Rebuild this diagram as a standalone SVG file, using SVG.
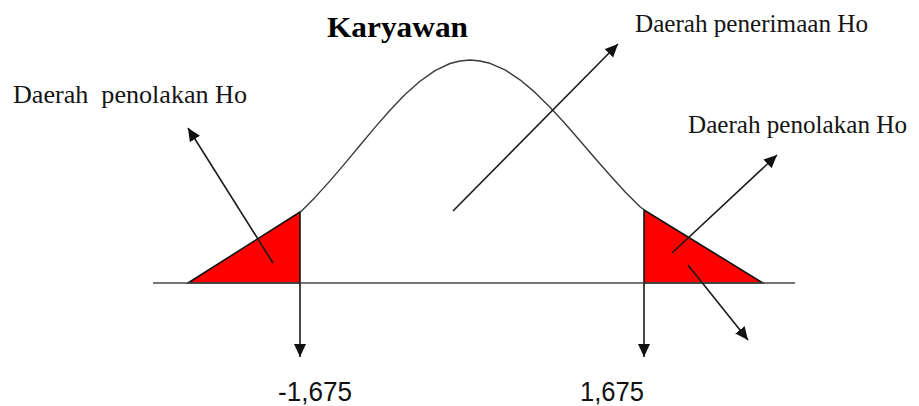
<svg xmlns="http://www.w3.org/2000/svg" width="919" height="406" viewBox="0 0 919 406">
<defs>
<style>
.lbl{font-family:"Liberation Serif","Times New Roman",serif;font-size:26px;fill:#141414}
.num{font-family:"Liberation Sans",Arial,sans-serif;font-size:27px;fill:#111}
.title{font-family:"Liberation Serif","Times New Roman",serif;font-size:30px;font-weight:bold;fill:#000}
.arrow{stroke:#1a1a1a;stroke-width:1.6;fill:none;marker-end:url(#ah)}
.tri{fill:#ff0000;stroke:#111;stroke-width:1.6;stroke-linejoin:miter}
</style>
<marker id="ah" markerUnits="userSpaceOnUse" markerWidth="14" markerHeight="13" refX="13" refY="6" orient="auto">
<path d="M0,0 L13,6 L0,12 z" fill="#111"/>
</marker>
</defs>
<rect width="919" height="406" fill="#fff"/>
<g id="title"><text class="title" x="327" y="37" textLength="141" lengthAdjust="spacingAndGlyphs">Karyawan</text></g>
<g id="left-region">
<polygon class="tri" points="188,283 300,212 300,283"/>
</g>
<g id="right-region">
<polygon class="tri" points="644,210 644,283 763,283"/>
</g>
<g id="axis">
<line x1="153" y1="283" x2="795" y2="283" stroke="#4a4a4a" stroke-width="1.6"/>
</g>
<g id="curve">
<polyline fill="none" stroke="#3a3a3a" stroke-width="1.4" stroke-linejoin="round" points="300,212.5 315,197.4 330,180.9 345,163.4 360,145.3 375,127.4 390,110.2 405,94.6 420,81.2 435,70.6 450,63.5 460,61 470,60 480,61 490,63.3 505,69.9 520,79.8 535,92.4 550,107.2 565,123.5 580,140.7 595,158.2 610,175.3 625,191.7 640,206.8 645,210.5"/>
</g>
<g id="label-left"><text class="lbl" x="13" y="103" textLength="234" lengthAdjust="spacingAndGlyphs" xml:space="preserve">Daerah  penolakan Ho</text></g>
<g id="label-accept"><text class="lbl" x="635" y="32" textLength="233" lengthAdjust="spacingAndGlyphs">Daerah penerimaan Ho</text></g>
<g id="label-right"><text class="lbl" x="688" y="133" textLength="219" lengthAdjust="spacingAndGlyphs">Daerah penolakan Ho</text></g>
<g id="val-left"><text class="num" x="278" y="401" textLength="74" lengthAdjust="spacingAndGlyphs">-1,675</text></g>
<g id="val-right"><text class="num" x="580" y="401" textLength="64" lengthAdjust="spacingAndGlyphs">1,675</text></g>
<g id="connectors">
<line class="arrow" x1="273" y1="263" x2="188" y2="128"/>
<line class="arrow" x1="453" y1="211" x2="618" y2="44"/>
<line class="arrow" x1="672" y1="253" x2="777" y2="155"/>
<line class="arrow" x1="688" y1="265" x2="748" y2="340"/>
<line class="arrow" x1="300" y1="283" x2="300" y2="357"/>
<line class="arrow" x1="644" y1="283" x2="644" y2="357"/>
</g>
</svg>
